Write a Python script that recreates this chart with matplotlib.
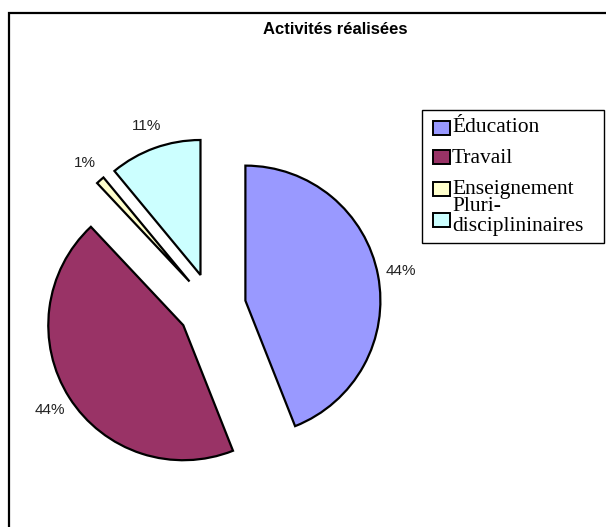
import numpy as np
import matplotlib.pyplot as plt
from matplotlib.patches import Rectangle

# data
categories = ['Éducation', 'Travail', 'Enseignement', 'Pluri-\ndisciplininaires']
values = [44, 44, 1, 11]
colors = ['#9999FF', '#993366', '#FFFFCC', '#CCFFFF']

W, H = 606, 527
fig = plt.figure(figsize=(W / 100, H / 100), dpi=100)
ax = fig.add_axes([0, 0, 1, 1])

# chart area border (cut by the image edge on right and bottom)
fig.patches.append(Rectangle((8.5 / W, -0.1), 1.2, 1.1 - 12.5 / H,
                             transform=fig.transFigure, fill=False,
                             edgecolor='black', linewidth=1.6))

# explode is in data units (pixels here)
wedges, texts = ax.pie(values, colors=colors, startangle=90, counterclock=False,
                       center=(212, H - 307), radius=135,
                       explode=[34] * 4,
                       wedgeprops=dict(edgecolor='black', linewidth=1.6))
ax.set_xlim(0, W)
ax.set_ylim(0, H)
ax.set_aspect('equal')
ax.axis('off')

# percent labels
for w, v in zip(wedges, values):
    ang = np.deg2rad((w.theta1 + w.theta2) / 2)
    cx, cy = w.center
    r = w.r * 1.17
    ax.text(cx + r * np.cos(ang), cy + r * np.sin(ang), f'{v}%',
            ha='center', va='center', fontsize=11,
            family='Liberation Sans', color='#222222')

fig.text(335 / W, 1 - 30 / H, 'Activités réalisées', ha='center', va='center',
         fontsize=12, fontweight='bold', family='Liberation Sans')

# legend drawn by hand, Excel style
fig.patches.append(Rectangle((422 / W, 1 - 243 / H), 182 / W, 133 / H,
                             transform=fig.transFigure, facecolor='white',
                             edgecolor='black', linewidth=1.0, zorder=3))
box_mid = [128, 157, 189, 220]    # centre of colour boxes, px from top
baselines = [132, 163, 194, 231]  # last-line text baselines, px from top
for lab, col, ym, yb in zip(categories, colors, box_mid, baselines):
    fig.patches.append(Rectangle((433 / W, 1 - (ym + 7) / H), 17 / W, 14 / H,
                                 transform=fig.transFigure, facecolor=col,
                                 edgecolor='black', linewidth=1.4, zorder=4))
    fig.text(452 / W, 1 - yb / H, lab, ha='left', va='baseline',
             fontsize=15.5, family='Liberation Serif', linespacing=1.05,
             zorder=5)

fig.savefig('out.png', dpi=100)
